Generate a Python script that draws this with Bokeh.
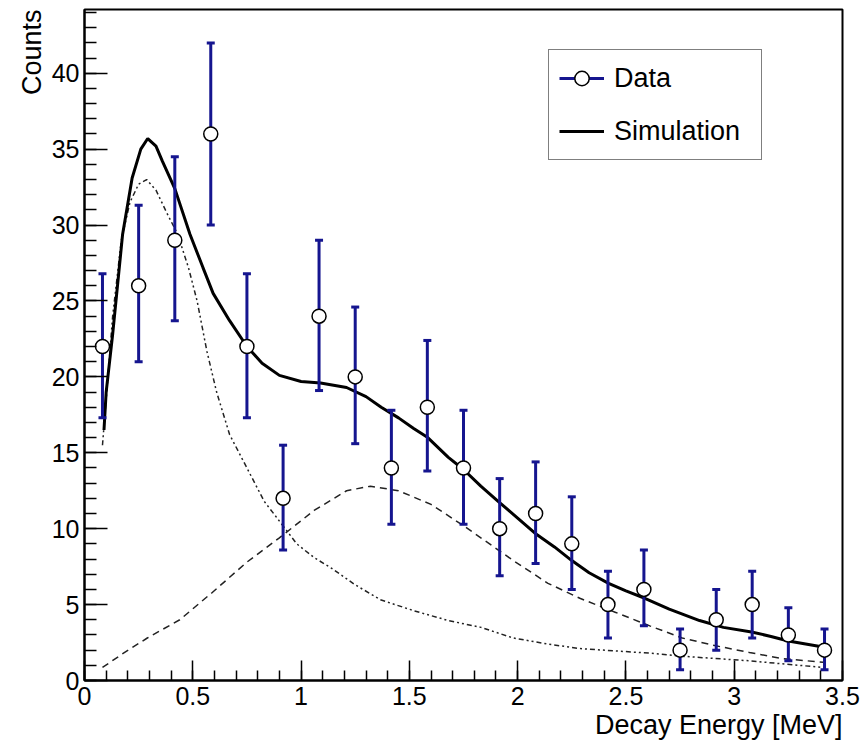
from bokeh.plotting import figure
from bokeh.models import FixedTicker, Legend, LegendItem, Title, Range1d
from bokeh.embed import file_html
from bokeh.resources import INLINE

# ---- data ----
energy = [0.083, 0.25, 0.417, 0.583, 0.75, 0.917, 1.083, 1.25, 1.417, 1.583,
          1.75, 1.917, 2.083, 2.25, 2.417, 2.583, 2.75, 2.917, 3.083, 3.25, 3.417]
counts = [22, 26, 29, 36, 22, 12, 24, 20, 14, 18, 14, 10, 11, 9, 5, 6, 2, 4, 5, 3, 2]
err_low = [17.3, 21.0, 23.7, 30.0, 17.3, 8.6, 19.1, 15.6, 10.3, 13.8, 10.3,
           6.9, 7.7, 6.0, 2.8, 3.6, 0.7, 2.0, 2.8, 1.3, 0.7]
err_high = [26.8, 31.3, 34.5, 42.0, 26.8, 15.5, 29.0, 24.6, 17.8, 22.4, 17.8,
            13.3, 14.4, 12.1, 7.2, 8.6, 3.4, 6.0, 7.2, 4.8, 3.4]

sim_x = [0.09, 0.10, 0.13, 0.176, 0.22, 0.26, 0.292, 0.33, 0.36, 0.417, 0.487,
         0.547, 0.594, 0.67, 0.75, 0.82, 0.90, 1.0, 1.09, 1.21, 1.30, 1.37, 1.45,
         1.52, 1.585, 1.68, 1.75, 1.83, 1.91, 2.0, 2.08, 2.17, 2.25, 2.33, 2.42,
         2.5, 2.59, 2.70, 2.84, 2.95, 3.08, 3.17, 3.25, 3.33, 3.41]
sim_y = [16.5, 19.0, 22.8, 29.4, 33.1, 35.0, 35.7, 35.2, 34.2, 32.4, 29.4,
         27.2, 25.5, 23.7, 22.0, 20.9, 20.1, 19.7, 19.6, 19.3, 18.7, 18.0, 17.3,
         16.6, 16.0, 14.7, 13.9, 12.8, 11.8, 10.7, 9.7, 8.8, 7.9, 7.1, 6.4,
         5.9, 5.4, 4.7, 3.95, 3.5, 3.2, 2.9, 2.6, 2.4, 2.2]

peak_x = [0.083, 0.10, 0.13, 0.17, 0.21, 0.25, 0.287, 0.33, 0.38, 0.43, 0.48,
          0.52, 0.565, 0.61, 0.67, 0.75, 0.83, 0.90, 0.98, 1.06, 1.14, 1.25,
          1.37, 1.52, 1.68, 1.83, 1.98, 2.14, 2.29, 2.45, 2.61, 2.76, 2.91,
          3.07, 3.22, 3.41]
peak_y = [15.5, 18.5, 24.0, 29.0, 31.5, 32.7, 33.0, 32.3, 30.8, 29.4, 27.2,
          25.0, 21.7, 19.0, 16.2, 14.0, 11.8, 10.5, 9.0, 8.1, 7.4, 6.3,
          5.3, 4.6, 3.95, 3.5, 2.8, 2.4, 2.1, 1.95, 1.8, 1.6, 1.45,
          1.3, 1.1, 0.86]

broad_x = [0.083, 0.18, 0.29, 0.44, 0.59, 0.75, 0.90, 1.06, 1.21, 1.32, 1.45,
           1.60, 1.75, 1.83, 1.98, 2.14, 2.29, 2.45, 2.61, 2.76, 2.91, 3.07,
           3.22, 3.41]
broad_y = [0.86, 1.8, 2.8, 4.0, 5.8, 7.8, 9.4, 11.2, 12.5, 12.8, 12.5,
           11.6, 10.2, 9.4, 7.9, 6.4, 5.4, 4.5, 3.6, 2.8, 2.3, 1.85,
           1.45, 1.2]

x_major = [0, 0.5, 1, 1.5, 2, 2.5, 3, 3.5]
x_minor = [round(i * 0.1, 1) for i in range(36)]
y_major = [0, 5, 10, 15, 20, 25, 30, 35, 40]
y_minor = list(range(45))

FONT = "Liberation Sans"
BLUE = "#15158f"

p = figure(width=863, height=745, x_range=Range1d(0, 3.5), y_range=Range1d(0, 44.2),
           output_backend="svg", toolbar_location=None,
           min_border_left=84, min_border_right=21, min_border_top=9,
           min_border_bottom=65)
p.grid.visible = False
p.outline_line_color = "black"
p.outline_line_width = 2
p.background_fill_color = "white"
p.border_fill_color = "white"

for ax in (p.xaxis[0], p.yaxis[0]):
    ax.axis_line_width = 2
    ax.axis_line_color = "black"
    ax.major_tick_out = 0
    ax.minor_tick_out = 0
    ax.major_tick_line_width = 1.5
    ax.minor_tick_line_width = 1.5
    ax.major_tick_line_color = "black"
    ax.minor_tick_line_color = "black"
    ax.major_label_text_font = FONT
    ax.major_label_text_font_size = "25px"
    ax.major_label_text_color = "black"

p.xaxis.ticker = FixedTicker(ticks=x_major, minor_ticks=x_minor)
p.yaxis.ticker = FixedTicker(ticks=y_major, minor_ticks=y_minor)
p.xaxis.major_tick_in = 20
p.xaxis.minor_tick_in = 10
p.yaxis.major_tick_in = 23
p.yaxis.minor_tick_in = 12
p.xaxis.major_label_standoff = 6
p.yaxis.major_label_standoff = 5

# component curves
p.line(broad_x, broad_y, line_color="#222222", line_width=1.5, line_dash="7 5")
p.line(peak_x, peak_y, line_color="#222222", line_width=1.5, line_dash="5 3 2 3 2 3")
r_sim = p.line(sim_x, sim_y, line_color="black", line_width=3)

# error bars
r_bar = p.segment(x0=energy, y0=err_low, x1=energy, y1=err_high,
                  line_color=BLUE, line_width=3)
p.scatter(energy, err_low, marker="dash", size=8, line_color=BLUE, line_width=3)
p.scatter(energy, err_high, marker="dash", size=8, line_color=BLUE, line_width=3)
r_pts = p.scatter(energy, counts, marker="circle", size=14, fill_color="white",
                  line_color="black", line_width=1.5)

legend = Legend(items=[LegendItem(label="Data", renderers=[r_bar, r_pts]),
                       LegendItem(label="Simulation", renderers=[r_sim])],
                location=(464, 520), orientation="vertical",
                border_line_color="black", border_line_width=1.5,
                background_fill_color="white", background_fill_alpha=1,
                padding=10, spacing=17, margin=0,
                glyph_width=45, glyph_height=36, label_height=36,
                label_standoff=10, label_width=137,
                label_text_font=FONT, label_text_font_size="27px",
                label_text_color="black")
p.add_layout(legend)

xt = Title(text="Decay Energy [MeV]", align="right", text_font=FONT,
           text_font_size="27px", text_font_style="normal", text_color="black",
           standoff=0)
p.add_layout(xt, "below")
yt = Title(text="Counts", align="right", text_font=FONT,
           text_font_size="27px", text_font_style="normal", text_color="black",
           standoff=4)
p.add_layout(yt, "left")

open("out.html", "w").write(file_html(p, INLINE))
